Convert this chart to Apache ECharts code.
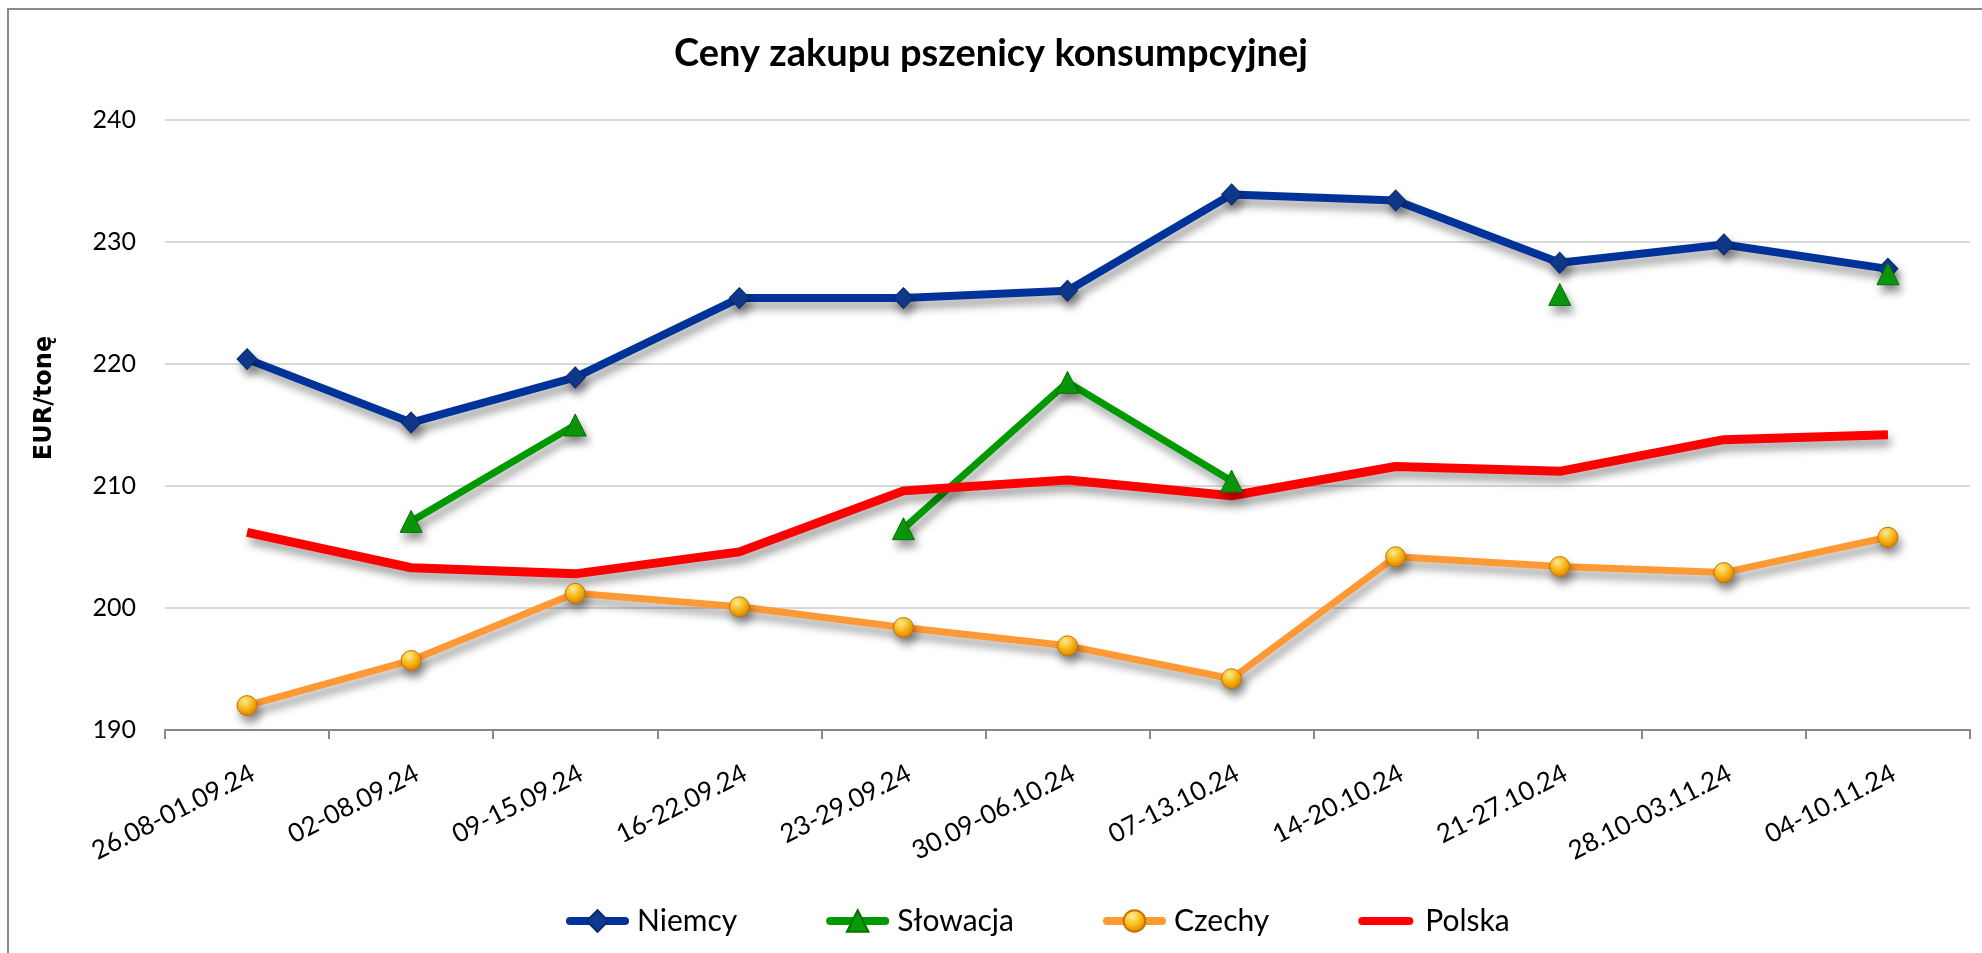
<!DOCTYPE html>
<html>
<head>
<meta charset="utf-8">
<script src="https://cdn.jsdelivr.net/npm/echarts@6/dist/echarts.min.js"></script>
<style>
html,body{margin:0;padding:0;background:#fff;}
#chart{position:absolute;left:0;top:0;width:1982px;height:953px;}
#frame{position:absolute;left:7px;top:8px;width:2000px;height:1000px;border-left:2px solid #8a8a8a;border-top:2px solid #8a8a8a;pointer-events:none;}
</style>
</head>
<body>
<div id="chart"></div>
<div id="frame"></div>
<script>
const categories = ['26.08-01.09.24','02-08.09.24','09-15.09.24','16-22.09.24','23-29.09.24','30.09-06.10.24','07-13.10.24','14-20.10.24','21-27.10.24','28.10-03.11.24','04-10.11.24'];
const niemcy   = [220.4, 215.2, 218.9, 225.4, 225.4, 226.0, 233.9, 233.4, 228.3, 229.8, 227.8];
const slowacja = [null, 207.1, 215.0, null, 206.5, 218.5, 210.4, null, 225.7, null, 227.4];
const czechy   = [192.0, 195.7, 201.2, 200.1, 198.4, 196.9, 194.2, 204.2, 203.4, 202.9, 205.8];
const polska   = [206.2, 203.3, 202.8, 204.6, 209.6, 210.5, 209.2, 211.6, 211.2, 213.8, 214.2];
const seriesNames = ['Niemcy', 'Słowacja', 'Czechy', 'Polska'];
const yTicks = {min: 190, max: 240, interval: 10};

const FONT = 'Lato';
const shadow = {shadowColor: 'rgba(0,0,0,0.38)', shadowBlur: 8, shadowOffsetX: 3, shadowOffsetY: 7};

const chart = echarts.init(document.getElementById('chart'), null, {renderer: 'canvas'});
chart.setOption({
  animation: false,
  backgroundColor: '#ffffff',
  title: {
    text: 'Ceny zakupu pszenicy konsumpcyjnej',
    left: 'center',
    top: 30,
    textStyle: {fontFamily: FONT, fontWeight: 'bold', fontSize: 38, color: '#000'}
  },
  grid: {left: 165, right: 12, top: 120, bottom: 223, containLabel: false},
  legend: {
    left: 561,
    top: 901,
    itemWidth: 55,
    itemHeight: 27,
    itemGap: 89,
    lineStyle: {width: 8, cap: 'round'},
    textStyle: {fontFamily: FONT, fontSize: 30, color: '#000', padding: [0, 0, 0, 7]},
    data: [
      {name: seriesNames[0]},
      {name: seriesNames[1]},
      {name: seriesNames[2]},
      {name: seriesNames[3], icon: 'path://M4,0 L51,0 A4,4 0 0 1 51,8 L4,8 A4,4 0 0 1 4,0 Z'}
    ]
  },
  xAxis: {
    type: 'category',
    data: categories,
    boundaryGap: true,
    axisLine: {show: true, lineStyle: {color: '#898989', width: 2}},
    axisTick: {show: true, length: 9, lineStyle: {color: '#898989', width: 2}},
    axisLabel: {rotate: 27, margin: 30, align: 'right', verticalAlign: 'top', fontFamily: FONT, fontSize: 26, color: '#000', interval: 0}
  },
  yAxis: {
    type: 'value',
    min: yTicks.min,
    max: yTicks.max,
    interval: yTicks.interval,
    name: 'EUR/tonę',
    nameLocation: 'middle',
    nameGap: 108,
    nameRotate: 90,
    nameTextStyle: {fontFamily: 'DejaVu Sans', fontWeight: 'bold', fontSize: 24, color: '#000', padding: [0, 0, 0, 54]},
    axisLine: {show: false},
    axisTick: {show: false},
    axisLabel: {margin: 29, fontFamily: FONT, fontSize: 25, color: '#000'},
    splitLine: {show: true, lineStyle: {color: '#d9d9d9', width: 2}}
  },
  series: [
    {
      name: seriesNames[0], type: 'line', data: niemcy,
      symbol: 'diamond', symbolSize: [20, 21],
      lineStyle: Object.assign({color: '#003399', width: 8}, shadow),
      itemStyle: Object.assign({color: '#0f3a8f', borderColor: '#0a2a6e', borderWidth: 1}, shadow)
    },
    {
      name: seriesNames[1], type: 'line', data: slowacja, connectNulls: false,
      symbol: 'triangle', symbolSize: [22, 22],
      lineStyle: Object.assign({color: '#009900', width: 7}, shadow),
      itemStyle: Object.assign({color: '#0a9a0a', borderColor: '#057005', borderWidth: 1}, shadow)
    },
    {
      name: seriesNames[2], type: 'line', data: czechy,
      symbol: 'circle', symbolSize: 20,
      lineStyle: Object.assign({color: '#FF9933', width: 7}, shadow),
      itemStyle: Object.assign({
        color: new echarts.graphic.RadialGradient(0.4, 0.3, 0.75, [
          {offset: 0, color: '#FFF0A0'},
          {offset: 0.45, color: '#FFC21A'},
          {offset: 1, color: '#D97A00'}
        ]),
        borderColor: '#C87000', borderWidth: 1
      }, shadow)
    },
    {
      name: seriesNames[3], type: 'line', data: polska,
      symbol: 'none', showSymbol: false,
      lineStyle: Object.assign({color: '#FF0000', width: 9}, shadow),
      itemStyle: {color: '#FF0000'}
    }
  ]
});
</script>
</body>
</html>
